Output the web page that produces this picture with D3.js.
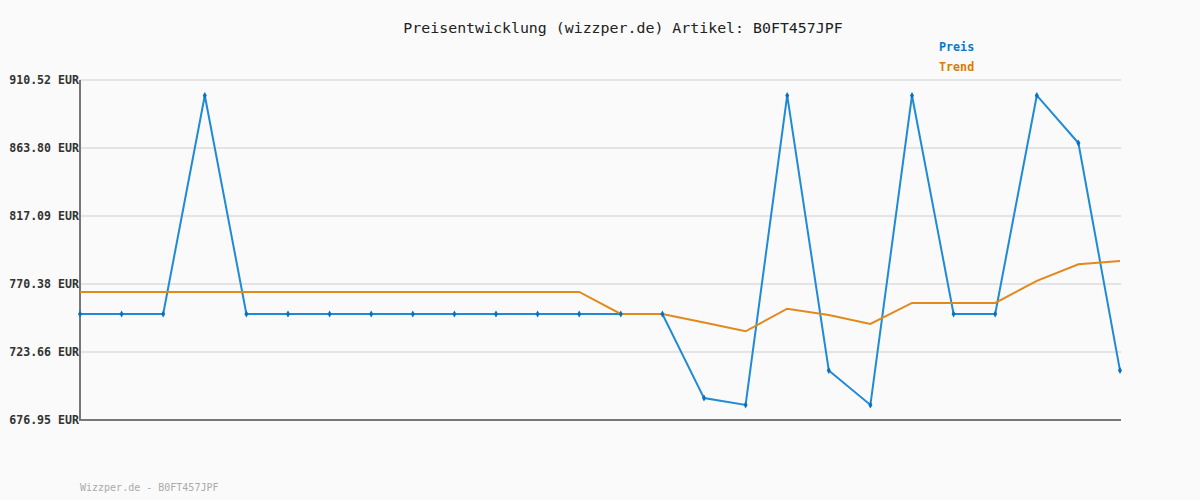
<!DOCTYPE html>
<html>
<head>
<meta charset="utf-8">
<script src="https://cdn.jsdelivr.net/npm/d3@7"></script>
<style>
  body { margin: 0; background: #fafafa; }
  svg { display: block; }
</style>
</head>
<body>
<script>
var preis = [749.8, 749.8, 749.8, 899.9, 749.8, 749.8, 749.8, 749.8, 749.8, 749.8, 749.8, 749.8, 749.8, 749.8, 749.8,
             692.0, 687.3, 899.9, 711.0, 687.3, 899.9, 749.8, 749.8, 899.9, 867.2, 710.9];
var trend = [764.9, 764.9, 764.9, 764.9, 764.9, 764.9, 764.9, 764.9, 764.9, 764.9, 764.9, 764.9, 764.9, 749.8, 749.8,
             744.0, 737.9, 753.4, 749.1, 742.9, 757.4, 757.4, 757.4, 772.5, 783.9, 786.1];
var yTicks = [676.95, 723.66, 770.38, 817.09, 863.80, 910.52];
var title = "Preisentwicklung (wizzper.de) Artikel: B0FT457JPF";
var footer = "Wizzper.de - B0FT457JPF";

var W = 1200, H = 500;
var pLeft = 80, pRight = 1121, pTop = 80, pBottom = 420;
var font = "'DejaVu Sans Mono', monospace";

var svg = d3.select("body").append("svg")
            .attr("width", W)
            .attr("height", H)
            .style("background", "#fafafa");

var x = d3.scaleLinear().domain([0, preis.length - 1]).range([pLeft, pRight - 1]);
var y = d3.scaleLinear().domain([yTicks[0], yTicks[yTicks.length - 1]]).range([pBottom, pTop]);

// gridlines
svg.selectAll("line.grid")
   .data(yTicks.slice(1))
   .enter()
      .append("line")
      .attr("class", "grid")
      .attr("x1", pLeft).attr("x2", pRight)
      .attr("y1", function(d) { return y(d); })
      .attr("y2", function(d) { return y(d); })
      .attr("stroke", "#e4e4e4")
      .attr("stroke-width", 2);

// y labels
svg.selectAll("text.ylab")
   .data(yTicks)
   .enter()
      .append("text")
      .attr("class", "ylab")
      .attr("x", 79)
      .attr("y", function(d) { return y(d) + 4; })
      .attr("text-anchor", "end")
      .attr("font-family", font)
      .attr("font-weight", "bold")
      .attr("font-size", 11.6)
      .attr("fill", "#333")
      .text(function(d) { return d.toFixed(2) + " EUR"; });

// axes
svg.append("line").attr("x1", pLeft).attr("x2", pLeft).attr("y1", pTop).attr("y2", pBottom + 1)
   .attr("stroke", "#777").attr("stroke-width", 2);
svg.append("line").attr("x1", pLeft).attr("x2", pRight).attr("y1", pBottom).attr("y2", pBottom)
   .attr("stroke", "#777").attr("stroke-width", 2);

var line = d3.line()
             .x(function(d, i) { return x(i); })
             .y(function(d) { return y(d); });

svg.append("path").datum(preis)
   .attr("d", line).attr("fill", "none")
   .attr("stroke", "#1f8ad8").attr("stroke-width", 2);

svg.append("path").datum(trend)
   .attr("d", line).attr("fill", "none")
   .attr("stroke", "#e2891c").attr("stroke-width", 2);

svg.selectAll("path.pt")
   .data(preis)
   .enter()
      .append("path")
      .attr("class", "pt")
      .attr("d", d3.symbol().type(d3.symbolDiamond).size(14))
      .attr("transform", function(d, i) { return "translate(" + x(i) + "," + y(d) + ")"; })
      .attr("fill", "#0a70c0");

// title
svg.append("text")
   .attr("x", 623).attr("y", 33)
   .attr("text-anchor", "middle")
   .attr("font-family", font).attr("font-size", 14.9)
   .attr("fill", "#222")
   .text(title);

// legend
svg.append("text").attr("x", 939).attr("y", 51)
   .attr("font-family", font).attr("font-weight", "bold").attr("font-size", 11.7)
   .attr("fill", "#0a77c9").text("Preis");
svg.append("text").attr("x", 939).attr("y", 71)
   .attr("font-family", font).attr("font-weight", "bold").attr("font-size", 11.7)
   .attr("fill", "#dd7a00").text("Trend");

// footer
svg.append("text").attr("x", 80).attr("y", 491)
   .attr("font-family", font).attr("font-size", 10)
   .attr("fill", "#aaa").text(footer);
</script>
</body>
</html>
